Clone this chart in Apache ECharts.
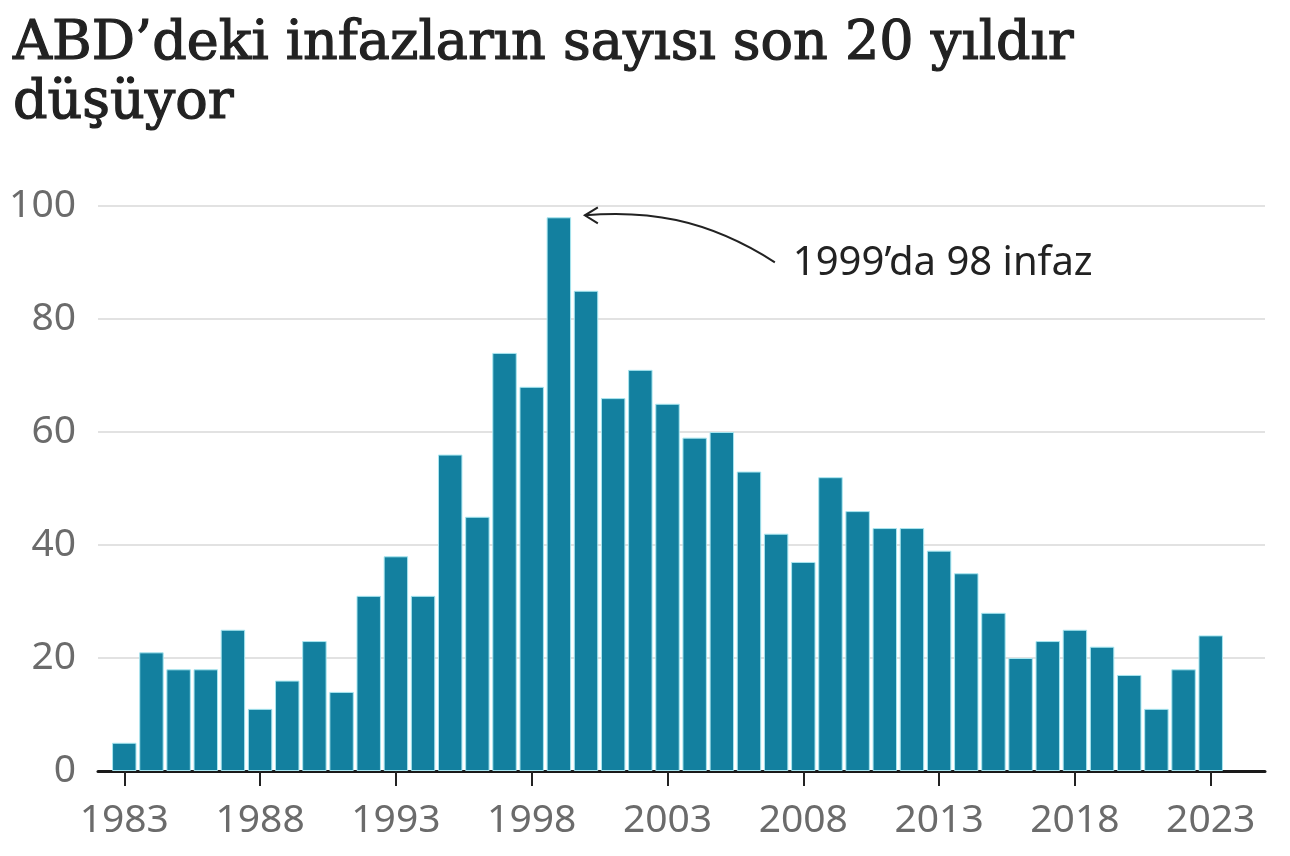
<!DOCTYPE html>
<html>
<head>
<meta charset="utf-8">
<script src="https://cdn.jsdelivr.net/npm/echarts@6/dist/echarts.min.js"></script>
<style>
html,body{margin:0;padding:0;background:#fff;}
#c{width:1290px;height:856px;}
</style>
</head>
<body>
<div id="c"></div>
<script>
const years = ['1983','1984','1985','1986','1987','1988','1989','1990','1991','1992','1993','1994','1995','1996','1997','1998','1999','2000','2001','2002','2003','2004','2005','2006','2007','2008','2009','2010','2011','2012','2013','2014','2015','2016','2017','2018','2019','2020','2021','2022','2023'];
const executions = [5,21,18,18,25,11,16,23,14,31,38,31,56,45,74,68,98,85,66,71,65,59,60,53,42,37,52,46,43,43,39,35,28,20,23,25,22,17,11,18,24];
const yTicks = [0,20,40,60,80,100];
const titleText = 'ABD’deki infazların sayısı son 20 yıldır\ndüşüyor';
const noteText = '1999’da 98 infaz';
const noteYear = '1999';

const chart = echarts.init(document.getElementById('c'), null, {renderer:'canvas'});
const sans = '"Noto Sans", "Open Sans", sans-serif';
const option = {
  animation: false,
  backgroundColor: '#fff',
  title: {
    text: titleText,
    left: 8, top: 10,
    textStyle: {fontFamily: '"DejaVu Serif", serif', fontWeight: 'normal', fontSize: 54, lineHeight: 59, color: '#222',
                textBorderColor: '#222', textBorderWidth: 1.2}
  },
  grid: [
    {left: 98, right: 25, top: 206, bottom: 85},
    {left: 110.7, right: 65.7, top: 206, bottom: 85}
  ],
  xAxis: [
    {type: 'value', gridIndex: 0, min: 0, max: 1, axisLabel: {show: false}, axisTick: {show: false}, splitLine: {show: false},
     axisLine: {show: true, lineStyle: {color: '#1a1a1a', width: 3}}},
    {type: 'category', gridIndex: 1, data: years, boundaryGap: true,
     axisLine: {show: false},
     axisTick: {show: true, alignWithLabel: true, interval: 4, length: 15, lineStyle: {color: '#222', width: 2}},
     axisLabel: {interval: 4, margin: 30, fontFamily: sans, fontSize: 39, color: '#6b6b6b', lineHeight: 40}}
  ],
  yAxis: [
    {type: 'value', gridIndex: 0, min: yTicks[0], max: yTicks[yTicks.length-1], interval: 20,
     axisLine: {show: false}, axisTick: {show: false},
     axisLabel: {margin: 22, fontFamily: sans, fontSize: 39, color: '#6b6b6b'},
     splitLine: {show: true, lineStyle: {color: '#d9d9d9', width: 1.5}}},
    {type: 'value', gridIndex: 1, min: 0, max: 100, show: false}
  ],
  series: [{
    type: 'bar', xAxisIndex: 1, yAxisIndex: 1, data: executions,
    barWidth: '90%',
    itemStyle: {color: '#13809f', borderColor: '#a8e6f0', borderWidth: 1}
  }]
};
chart.setOption(option);

const tip = chart.convertToPixel({xAxisIndex: 1, yAxisIndex: 1}, [noteYear, executions[years.indexOf(noteYear)]]);
const tx = tip[0] + 26, ty = tip[1] - 2;
const sx = tx + 190, sy = ty + 47;
chart.setOption({
  graphic: [
    {type: 'bezierCurve', shape: {x1: sx, y1: sy, cpx1: sx - 70, cpy1: sy - 45, cpx2: tx + 60, cpy2: ty - 5, x2: tx, y2: ty},
     style: {stroke: '#222', lineWidth: 2, fill: null}},
    {type: 'polyline', shape: {points: [[tx + 13, ty - 8], [tx, ty], [tx + 13, ty + 8]]},
     style: {stroke: '#222', lineWidth: 2, fill: null}},
    {type: 'text', x: sx + 18, y: sy + 1, style: {text: noteText, fontFamily: sans, fontSize: 40, fill: '#222', textVerticalAlign: 'middle'}}
  ]
});
</script>
</body>
</html>
